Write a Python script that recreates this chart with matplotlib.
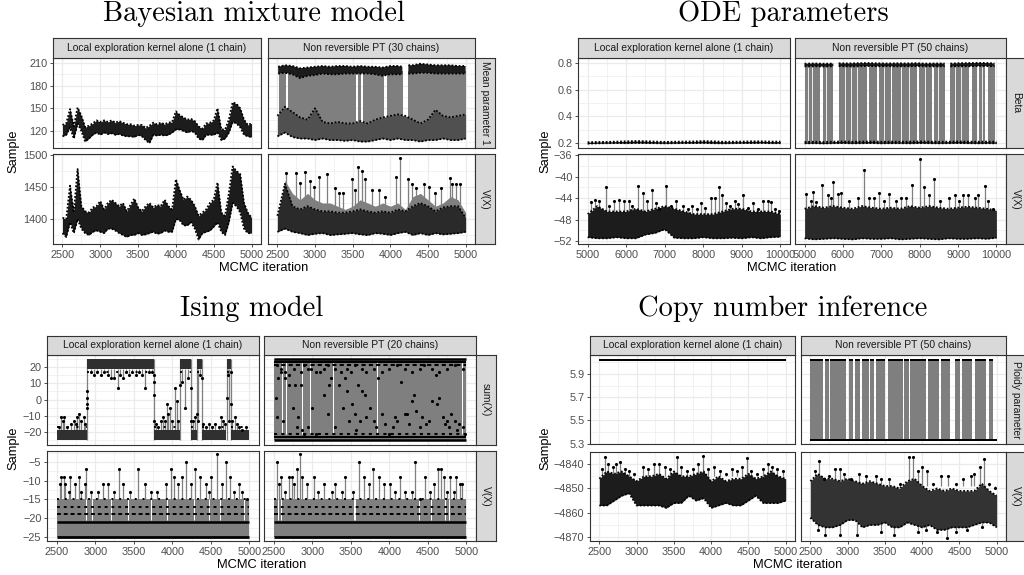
import numpy as np
import matplotlib
matplotlib.use('Agg')
import matplotlib.pyplot as plt
from matplotlib.ticker import FixedLocator

plt.rcParams['font.family'] = ['Liberation Sans', 'DejaVu Sans']
plt.rcParams['axes.formatter.useoffset'] = False

W, H = 1024, 575
GRID = '#ebebeb'
BORDER = '#333333'
TEXT = '#4d4d4d'
GREY = '#7f7f7f'
DARK = '#1c1c1c'
nan = np.nan

# ---- iteration grids -------------------------------------------------------
it50 = np.arange(2500, 5001, 50)
it100 = np.arange(2500, 5001, 100)
it250 = np.arange(5000, 10001, 250)

# ---- Bayesian mixture model ------------------------------------------------
mix_mean_local_lo = [113, 115, 125, 110, 130, 120, 106, 110, 115, 118,
                     115, 118, 116, 117, 115, 116, 114, 113, 113, 112,
                     115, 113, 108, 104, 115, 114, 115, 114, 115, 118,
                     122, 122, 120, 118, 120, 118, 110, 108, 115, 115,
                     115, 118, 108, 110, 118, 132, 130, 125, 115, 113, 112]
mix_mean_local_hi = [128, 130, 149, 126, 151, 140, 125, 127, 130, 134,
                     132, 134, 132, 134, 131, 133, 131, 129, 129, 127,
                     128, 128, 124, 127, 131, 129, 131, 129, 131, 132,
                     146, 141, 138, 135, 136, 133, 126, 123, 130, 131,
                     134, 150, 122, 122, 135, 158, 156, 150, 135, 128, 130]
mix_v_local_lo = [1378, 1372, 1395, 1378, 1400, 1385, 1378, 1375, 1380, 1382,
                  1380, 1378, 1385, 1385, 1382, 1378, 1375, 1372, 1375, 1375,
                  1378, 1375, 1376, 1378, 1380, 1377, 1378, 1382, 1380, 1380,
                  1400, 1398, 1390, 1390, 1395, 1385, 1368, 1378, 1380, 1382,
                  1388, 1395, 1380, 1375, 1395, 1425, 1420, 1410, 1385, 1378, 1378]
mix_v_local_hi = [1402, 1400, 1452, 1410, 1478, 1420, 1412, 1410, 1418, 1420,
                  1428, 1415, 1425, 1430, 1425, 1420, 1425, 1412, 1422, 1432,
                  1418, 1412, 1420, 1425, 1418, 1422, 1420, 1430, 1420, 1415,
                  1462, 1445, 1430, 1435, 1430, 1420, 1405, 1410, 1415, 1425,
                  1430, 1457, 1410, 1405, 1440, 1482, 1475, 1470, 1425, 1410, 1402]

mix_pt_up_x = [2510, 2600, 2700, 2800, 2900, 3000, 3100, 3200, 3300, 3400, 3500, 3600,
               3700, 3800, 3900, 4000, 4100, 4160, nan, 4240, 4300, 4400, 4500, 4600,
               4700, 4800, 4900, 5000]
mix_pt_up_lo = [196, 197, 195, 190, 193, 194, 196, 195, 195, 196, 196, 196,
                196, 195, 193, 195, 195, 195, nan, 196, 196, 197, 197, 196,
                196, 196, 196, 196]
mix_pt_up_hi = [205, 207, 206, 203, 204, 205, 206, 205, 206, 206, 205, 206,
                205, 205, 204, 206, 206, 205, nan, 207, 207, 209, 208, 207,
                207, 207, 206, 206]
mix_pt_low_lo = [113, 118, 112, 110, 110, 108, 110, 108, 108, 107, 108, 106, 106,
                 108, 110, 108, 110, 108, 108, 106, 108, 108, 110, 108, 108, 110]
mix_pt_low_hi = [140, 152, 145, 138, 135, 150, 132, 130, 132, 130, 130, 133, 130,
                 135, 138, 140, 142, 140, 135, 130, 135, 148, 140, 138, 140, 142]
mix_pt_blocks = [(2525, 2620), (2636, 3328), (3338, 3543), (3565, 3605),
                 (3635, 3918), (3953, 4162), (4240, 5000)]

mix_v_pt_lo = [1380, 1385, 1380, 1378, 1375, 1377, 1378, 1375, 1376, 1377, 1378, 1376, 1375,
               1378, 1377, 1375, 1378, 1380, 1375, 1378, 1375, 1378, 1376, 1377, 1378, 1380]
mix_v_pt_hi = [1405, 1455, 1420, 1415, 1420, 1415, 1412, 1412, 1410, 1410, 1412, 1415, 1412,
               1410, 1412, 1410, 1415, 1412, 1420, 1425, 1420, 1412, 1418, 1420, 1420, 1402]
mix_v_pt_env = [1405, 1460, 1440, 1430, 1440, 1430, 1425, 1425, 1420, 1415, 1420, 1430, 1425,
                1420, 1425, 1420, 1425, 1415, 1435, 1440, 1430, 1420, 1425, 1435, 1430, 1410]
mix_v_pt_spk_x = [2615, 2743, 2795, 2870, 2928, 2980, 3055, 3157, 3267, 3320, 3378, 3497,
                  3528, 3576, 3620, 3664, 3760, 3853, 3928, 4070, 4127, 4238, 4282, 4340,
                  4450, 4515, 4590, 4678, 4789, 4824, 4877, 4930]
mix_v_pt_spk_y = [1472, 1472, 1456, 1473, 1460, 1450, 1465, 1470, 1448, 1440, 1440, 1462,
                  1445, 1481, 1475, 1462, 1445, 1445, 1435, 1465, 1496, 1463, 1455, 1448,
                  1455, 1450, 1440, 1448, 1464, 1455, 1455, 1455]

# ---- ODE parameters --------------------------------------------------------
ode_beta_local_lo = [0.195, 0.197, 0.198, 0.199, 0.198, 0.200, 0.199, 0.198, 0.197, 0.198, 0.199,
                     0.199, 0.200, 0.198, 0.197, 0.198, 0.199, 0.199, 0.200, 0.198, 0.198]
ode_beta_local_hi = [0.205, 0.207, 0.208, 0.210, 0.212, 0.214, 0.213, 0.210, 0.208, 0.209, 0.210,
                     0.211, 0.214, 0.212, 0.209, 0.209, 0.210, 0.212, 0.212, 0.210, 0.210]
ode_pt_up_x = [5000, 5250, 5500, 5750, nan, 5890, 6150, 6400, 6650, 6900, 7150, 7400,
               7650, 7900, 8150, 8400, 8650, nan, 8800, 9050, 9300, 9550, 9800, 9950]
ode_pt_up_lo = [0.775, 0.776, 0.774, 0.776, nan, 0.777, 0.775, 0.776, 0.778, 0.776, 0.777, 0.775,
                0.776, 0.777, 0.776, 0.775, 0.776, nan, 0.775, 0.777, 0.776, 0.778, 0.777, 0.775]
ode_pt_up_hi = [0.795, 0.797, 0.795, 0.796, nan, 0.798, 0.797, 0.799, 0.800, 0.798, 0.797, 0.798,
                0.797, 0.799, 0.796, 0.797, 0.797, nan, 0.796, 0.799, 0.800, 0.801, 0.800, 0.797]
ode_pt_low_lo = [0.197, 0.198, 0.196, 0.198, 0.199, 0.197, 0.198, 0.199, 0.197, 0.198, 0.198,
                 0.197, 0.199, 0.198, 0.197, 0.198, 0.199, 0.198, 0.197, 0.198, 0.197]
ode_pt_low_hi = [0.208, 0.209, 0.207, 0.210, 0.211, 0.209, 0.210, 0.211, 0.209, 0.210, 0.209,
                 0.210, 0.211, 0.210, 0.209, 0.210, 0.211, 0.210, 0.209, 0.210, 0.209]
ode_pt_blocks = [(5000, 5389), (5475, 5752), (5890, 6616), (6668, 6875), (6927, 7246),
                 (7290, 7506), (7549, 7938), (7981, 8326), (8370, 8655), (8802, 9277),
                 (9363, 9493), (9553, 9692), (9778, 9951)]
ode_pt_thin = [5090, 5200, 5560, 6060, 6200, 6360, 7060, 7720, 8150, 8470, 8920, 9080, 9620]

ode_v_local_lo = [-51.3, -51.5, -51.5, -51.3, -51.5, -51.5, -50.8, -50.5, -49.8, -51.4, -51.5,
                  -51.5, -51.3, -51.5, -51.5, -51.4, -51.5, -51.3, -51.5, -51.3, -51.2]
ode_v_local_hi = [-47.0, -45.5, -46.5, -46.5, -46.5, -46.0, -46.5, -46.0, -45.5, -46.0, -46.5,
                  -47.0, -47.0, -47.0, -46.5, -46.0, -46.0, -46.5, -46.5, -46.5, -47.0]
ode_v_local_spk_x = [5100, 5200, 5300, 5480, 5550, 5680, 5810, 5940, 6070, 6150, 6310, 6440,
                     6550, 6660, 6770, 6850, 7030, 7150, 7300, 7470, 7600, 7710, 7850, 7950,
                     8050, 8190, 8300, 8420, 8480, 8600, 8700, 8820, 8900, 9020, 9150, 9300,
                     9420, 9560, 9690, 9750, 9870, 9960]
ode_v_local_spk_y = [-44.8, -44.3, -44.5, -42.0, -45.5, -44.5, -44.3, -44.5, -44.5, -45.5, -41.7, -43.0,
                     -44.5, -42.5, -45.0, -46.0, -41.8, -45.5, -44.5, -45.5, -46.0, -45.5, -46.0, -45.0,
                     -45.8, -44.0, -44.0, -41.9, -43.5, -45.0, -45.5, -44.5, -45.2, -43.5, -45.8, -45.0,
                     -46.0, -44.5, -44.5, -44.8, -46.0, -46.5]
ode_v_pt_lo = [-51.5, -51.7, -51.6, -51.5, -51.6, -51.7, -51.5, -51.6, -51.6, -51.5, -51.7,
               -51.6, -51.5, -51.6, -51.7, -51.5, -51.6, -51.6, -51.5, -51.6, -51.4]
ode_v_pt_hi = [-46.0, -45.5, -45.8, -45.5, -45.8, -46.0, -45.5, -45.8, -46.0, -45.8, -46.0,
               -45.5, -45.8, -45.5, -45.8, -46.0, -45.8, -45.6, -45.8, -46.0, -46.3]
ode_v_pt_spk_x = [5025, 5170, 5230, 5300, 5460, 5600, 5690, 5750, 5865, 5950, 6165, 6380,
                  6560, 6680, 6810, 6940, 7070, 7200, 7380, 7520, 7640, 7810, 8000, 8110,
                  8240, 8370, 8540, 8760, 8910, 9020, 9140, 9270, 9430, 9530, 9690, 9790, 9920]
ode_v_pt_spk_y = [-43.3, -44.5, -42.8, -44.8, -41.6, -43.5, -44.0, -41.0, -43.2, -43.0, -44.5, -44.0,
                  -38.8, -44.0, -44.0, -43.0, -44.5, -43.3, -44.5, -44.0, -44.0, -41.5, -36.8, -42.0,
                  -43.5, -40.5, -44.5, -44.0, -43.5, -44.5, -43.5, -43.5, -44.0, -43.5, -41.8, -44.5, -46.0]

# ---- Ising model -----------------------------------------------------------
ising_local_low = [(2500, 2895), (3760, 4100), (4245, 4322), (4382, 4703), (4762, 5000)]
ising_local_high = [(2900, 3758), (4102, 4242), (4324, 4380), (4705, 4760)]
ising_local_tr_x = [2897, 2897, 2897, 2897, 3759, 3759, 3759, 3759, 4101, 4243, 4243, 4323,
                    4381, 4704, 4761, 4761]
ising_local_tr_y = [1, -3, -5, 5, 11, 3, -13, 15, 9, 7, -13, -9, 13, 1, 17, -3]
ising_local_lspk_x = [2530, 2555, 2580, 2600, 2640, 2680, 2720, 2745, 2770, 2790, 2820, 2850,
                      2870, 3790, 3820, 3850, 3880, 3905, 3930, 3950, 3975, 4000, 4030, 4055,
                      4075, 4270, 4295, 4400, 4440, 4480, 4520, 4560, 4600, 4630, 4660, 4680,
                      4780, 4810, 4840, 4870, 4900, 4950]
ising_local_lspk_y = [-17, -11, -13, -11, -17, -15, -13, -15, -11, -9, -13, -11,
                      -15, -15, -17, -13, -11, -13, -3, -9, -5, -13, 7, -1,
                      -13, -13, -11, -15, -17, -15, -17, -15, -17, -11, -13, -15,
                      -13, -11, -15, -17, -19, -17]
ising_local_hdip_x = [2950, 2990, 3030, 3080, 3120, 3160, 3200, 3240, 3300, 3320, 3360, 3400,
                      3440, 3480, 3530, 3570, 3610, 3650, 3700, 3740, 4130, 4160, 4200, 4340,
                      4360, 4720, 4740]
ising_local_hdip_y = [17, 15, 17, 15, 17, 15, 13, 13, 7, 15, 13, 17,
                      15, 17, 15, 17, 15, 7, 17, 17, 11, -5, 13, -13,
                      15, 15, -13]
ising_pt_white = [2608, 2665, 2868, 2967, 3265, 3840, 4944]
ising_pt_dot_x = [2530, 2540, 2560, 2600, 2620, 2650, 2700, 2750, 2780, 2800, 2820, 2850, 2870,
                  2900, 2950, 2980, 3000, 3050, 3100, 3150, 3200, 3220, 3250, 3300, 3350, 3400,
                  3420, 3450, 3480, 3500, 3520, 3550, 3570, 3600, 3620, 3650, 3680, 3700, 3750,
                  3800, 3830, 3850, 3900, 3950, 4000, 4050, 4080, 4100, 4150, 4200, 4230, 4260,
                  4300, 4320, 4350, 4400, 4430, 4480, 4520, 4550, 4600, 4620, 4650, 4700, 4720,
                  4750, 4780, 4800, 4850, 4880, 4900, 4950, 4980,
                  2540, 2600, 2650, 2700, 2760, 2850, 2900, 2950, 3050, 3150, 3200, 3300, 3380,
                  3450, 3550, 3650, 3700, 3800, 3900, 4000, 4100, 4200, 4300, 4400, 4450, 4550,
                  4650, 4750, 4850, 4950]
ising_pt_dot_y = [1, -11, 13, 17, -13, 13, 9, -5, 9, -17, -11, 9, -19,
                  -21, -17, 19, -5, -21, 17, 3, -9, 9, 13, -17, 9, -5,
                  13, 5, -13, 17, -3, -9, -19, 9, -13, 5, 3, -11, -5,
                  -13, -17, 13, -9, -15, -21, -17, -11, -13, 11, -9, -9, -15,
                  -1, 3, -7, -17, -11, -15, -13, -1, 15, -3, 1, -11, -15,
                  -13, -17, -9, -13, -19, -15, -17, -21,
                  21, 19, 17, 15, 19, 17, 21, 19, 17, 19, 21, 19, 17,
                  19, 21, 19, 17, 19, 17, 19, 21, 19, 17, 19, 21, 19,
                  17, 19, 21, 19]
ising_v_local_white = [2880, 2955, 3200, 3430, 3720, 3930, 4280, 4480, 4620, 4930]
ising_v_pt_white = [2560, 2590, 3540, 3560, 4385, 4540, 4720, 4780]
ising_v_local_spk_x = [2540, 2560, 2590, 2613, 2656, 2670, 2735, 2790, 2820, 2865, 2886, 2950,
                       3040, 3100, 3170, 3240, 3307, 3360, 3450, 3560, 3650, 3730, 3800, 3915,
                       3980, 4025, 4080, 4125, 4180, 4240, 4300, 4360, 4435, 4470, 4500, 4580,
                       4645, 4700, 4745, 4795, 4860, 4905, 4970]
ising_v_local_spk_y = [-11, -9, -9, -11, -13, -9, -11, -9, -13, -11, -7, -13,
                       -13, -11, -11, -13, -7, -11, -13, -7, -11, -13, -13, -11,
                       -7, -9, -11, -9, -5, -11, -7, -9, -11, -13, -9, -3,
                       -11, -5, -9, -13, -11, -13, -15]
ising_v_pt_spk_x = [2543, 2565, 2600, 2643, 2695, 2738, 2768, 2803, 2837, 2868, 2932, 3020,
                    3075, 3150, 3257, 3300, 3387, 3430, 3525, 3603, 3668, 3733, 3790, 3862,
                    3927, 4013, 4078, 4143, 4208, 4295, 4338, 4403, 4459, 4524, 4576, 4628,
                    4671, 4706, 4749, 4792, 4835, 4870, 4913, 4944]
ising_v_pt_spk_y = [-5, -11, -9, -13, -9, -9, -11, -7, -3, -9, -11, -9,
                    -13, -11, -13, -11, -13, -9, -13, -5, -9, -11, -7, -9,
                    -11, -11, -13, -9, -13, -13, -5, -15, -9, -13, -11, -7,
                    -7, -9, -13, -9, -13, -9, -11, -11]

# ---- Copy number inference -------------------------------------------------
cn_local_ploidy = (6.011, 6.029)
cn_pt_upper = (6.012, 6.028)
cn_pt_lower = (5.322, 5.336)
cn_pt_blocks = [(2500, 2666), (2702, 2755), (2769, 2979), (3015, 3069), (3096, 3168),
                (3194, 3284), (3306, 3360), (3383, 3508), (3539, 3741), (3763, 3822),
                (3840, 4046), (4077, 4225), (4256, 4368), (4435, 4503), (4538, 4673),
                (4704, 4861), (4892, 4950)]
cn_v_local_lo = [-4857, -4857, -4855, -4853, -4852, -4857, -4857, -4857, -4857, -4858, -4856, -4856, -4853,
                 -4855, -4854, -4858, -4857, -4856, -4857, -4857, -4855, -4853, -4856, -4856, -4856, -4855]
cn_v_local_hi = [-4846, -4843, -4844, -4843, -4845, -4847, -4845, -4845, -4844, -4846, -4843, -4845, -4845,
                 -4844, -4843, -4847, -4845, -4847, -4846, -4846, -4844, -4846, -4845, -4843, -4845, -4846]
cn_v_local_spk_x = [2530, 2580, 2620, 2680, 2720, 2780, 2850, 2900, 2960, 3080, 3150, 3230,
                    3300, 3380, 3450, 3540, 3600, 3680, 3760, 3830, 3895, 3960, 4040, 4120,
                    4200, 4280, 4350, 4420, 4475, 4540, 4620, 4700, 4760, 4820, 4880, 4960]
cn_v_local_spk_y = [-4842, -4837, -4840, -4841, -4840, -4839, -4842, -4843, -4844, -4841, -4842, -4840,
                    -4840, -4841, -4842, -4837, -4841, -4843, -4842, -4840, -4836.5, -4842, -4841, -4843,
                    -4844, -4842, -4843, -4841, -4837.5, -4843, -4844, -4842, -4840, -4841, -4842, -4843]
cn_v_pt_lo = [-4862, -4865, -4866, -4866, -4865, -4863, -4863, -4866, -4865, -4865, -4864, -4866, -4866,
              -4864, -4865, -4866, -4865, -4867, -4867, -4866, -4866, -4866, -4865, -4864, -4864, -4866]
cn_v_pt_hi = [-4847, -4844, -4846, -4846, -4847, -4846, -4847, -4848, -4847, -4848, -4849, -4849, -4850,
              -4847, -4846, -4849, -4851, -4850, -4851, -4850, -4851, -4851, -4851, -4848, -4851, -4853]
cn_v_pt_tspk_x = [2560, 2610, 2680, 2750, 2830, 2900, 2950, 3050, 3150, 3250, 3380, 3450, 3550,
                  3700, 3830, 3880, 3950, 4000, 4070, 4150, 4250, 4350, 4450, 4550, 4650, 4700,
                  4780, 4830, 4900, 4980]
cn_v_pt_tspk_y = [-4843, -4838.5, -4846, -4845, -4842, -4842, -4844, -4846, -4844, -4845, -4845, -4846,
                  -4846, -4848, -4837, -4837, -4843, -4841, -4843, -4848, -4845, -4845, -4848, -4846,
                  -4845, -4844, -4841, -4838, -4848, -4850]
cn_v_pt_bspk_x = [2600, 2700, 2900, 3130, 3450, 3620, 3950, 4050, 4200, 4330, 4450, 4600, 4800]
cn_v_pt_bspk_y = [-4867, -4869, -4869, -4869, -4868, -4869, -4868, -4867, -4868, -4870.5, -4868, -4867, -4866]

fig = plt.figure(figsize=(W / 100, H / 100), dpi=100)


def box(x0, y0, x1, y1):
    return [x0 / W, 1 - y1 / H, (x1 - x0) / W, (y1 - y0) / H]


def minors(ticks, lim):
    step = ticks[1] - ticks[0]
    vals = [t + step / 2 for t in [ticks[0] - step] + list(ticks)]
    return [v for v in vals if lim[0] <= v <= lim[1]]


def strip(rect, label, rot=0):
    ax = fig.add_axes(rect)
    ax.set_facecolor('#d9d9d9')
    ax.set_xticks([])
    ax.set_yticks([])
    for s in ax.spines.values():
        s.set_color(BORDER)
        s.set_linewidth(0.8)
    ax.text(0.5, 0.5, label, rotation=rot, ha='center', va='center',
            fontsize=7.4, color='#1a1a1a', transform=ax.transAxes)


def make_panel(cols, rows, strip_top, xlim, xticks, ylims, yticks,
               col_labels, row_labels, title, title_xy, ylabel_x, xlabel_y):
    axs = [[None, None], [None, None]]
    for r in range(2):
        for c in range(2):
            ax = fig.add_axes(box(cols[c][0], rows[r][0], cols[c][1], rows[r][1]))
            ax.set_xlim(xlim)
            ax.set_ylim(ylims[r])
            ax.xaxis.set_major_locator(FixedLocator(xticks))
            ax.yaxis.set_major_locator(FixedLocator(yticks[r]))
            ax.xaxis.set_minor_locator(FixedLocator(minors(xticks, xlim)))
            ax.yaxis.set_minor_locator(FixedLocator(minors(yticks[r], ylims[r])))
            ax.set_axisbelow(True)
            ax.grid(True, which='major', color=GRID, lw=0.9)
            ax.grid(True, which='minor', color=GRID, lw=0.45)
            ax.tick_params(which='minor', length=0)
            ax.tick_params(which='major', length=2.5, width=0.6, color=BORDER,
                           labelsize=7.8, labelcolor=TEXT, pad=1.5)
            if c == 1:
                ax.tick_params(axis='y', length=0, labelleft=False)
            if r == 0:
                ax.tick_params(axis='x', length=0, labelbottom=False)
            for s in ax.spines.values():
                s.set_color(BORDER)
                s.set_linewidth(0.8)
                s.set_zorder(10)
            axs[r][c] = ax
    for c in range(2):
        strip(box(cols[c][0], strip_top, cols[c][1], rows[0][0]), col_labels[c])
    for r in range(2):
        strip(box(cols[1][1], rows[r][0], cols[1][1] + 20, rows[r][1]), row_labels[r], rot=-90)
    fig.text(title_xy[0] / W, 1 - title_xy[1] / H, title, fontfamily='cmr10',
             fontsize=20.5, ha='center', va='center')
    fig.text(ylabel_x / W, 1 - (rows[0][0] + rows[1][1]) / 2 / H, 'Sample',
             rotation=90, fontsize=9.3, ha='center', va='center')
    fig.text((cols[0][0] + cols[1][1]) / 2 / W, 1 - xlabel_y / H, 'MCMC iteration',
             fontsize=9.3, ha='center', va='center')
    return axs


def band(ax, x, lo, hi, color=DARK):
    # dense trace: filled envelope with fuzzy dotted edges
    ax.fill_between(x, lo, hi, color=color, lw=0, zorder=3)
    for edge in (lo, hi):
        ax.plot(x, edge, color='black', lw=1.3, ls=(0, (1, 1)), zorder=4)


def spikes(ax, x, y, base, color=GREY):
    ax.vlines(x, base, y, color=color, lw=0.9, zorder=2)
    ax.plot(x, y, 'k.', ms=2.5, ls='none', zorder=4)


def blocks(ax, spans, y0, y1, color=GREY):
    ax.broken_barh([(s, e - s) for s, e in spans], (y0, y1 - y0),
                   facecolors=color, lw=0, zorder=2)


def row_dots(ax, x0, x1, y, style, lw=1.6):
    ax.hlines(y, x0, x1, color='black', lw=lw, linestyles=style, zorder=4)


yr = ['Mean parameter 1', 'V(X)']
cl_local = 'Local exploration kernel alone (1 chain)'

# ---- Bayesian mixture model panel -----------------------------------------
A = make_panel(cols=[(53, 261), (268, 475)], rows=[(58, 148), (154, 244)], strip_top=38,
               xlim=(2375, 5125), xticks=[2500, 3000, 3500, 4000, 4500, 5000],
               ylims=[(97.5, 216.6), (1361, 1501.5)],
               yticks=[[120, 150, 180, 210], [1400, 1450, 1500]],
               col_labels=[cl_local, 'Non reversible PT (30 chains)'],
               row_labels=yr, title='Bayesian mixture model', title_xy=(254, 14),
               ylabel_x=13, xlabel_y=268)
band(A[0][0], it50, mix_mean_local_lo, mix_mean_local_hi)
band(A[1][0], it50, mix_v_local_lo, mix_v_local_hi)
blocks(A[0][1], mix_pt_blocks, 122, 200)
band(A[0][1], mix_pt_up_x, mix_pt_up_lo, mix_pt_up_hi)
band(A[0][1], it100, mix_pt_low_lo, mix_pt_low_hi, color='#505050')
A[1][1].fill_between(it100, mix_v_pt_lo, mix_v_pt_env, color=GREY, lw=0, zorder=2)
spikes(A[1][1], mix_v_pt_spk_x, mix_v_pt_spk_y, 1410)
band(A[1][1], it100, mix_v_pt_lo, mix_v_pt_hi, color='#2a2a2a')

# ---- ODE panel -------------------------------------------------------------
B = make_panel(cols=[(578, 790), (795, 1006)], rows=[(58, 148), (154, 244)], strip_top=38,
               xlim=(4750, 10250), xticks=[5000, 6000, 7000, 8000, 9000, 10000],
               ylims=[(0.162, 0.838), (-52.56, -35.8)],
               yticks=[[0.2, 0.4, 0.6, 0.8], [-52, -48, -44, -40, -36]],
               col_labels=[cl_local, 'Non reversible PT (50 chains)'],
               row_labels=['Beta', 'V(X)'], title='ODE parameters', title_xy=(783, 14),
               ylabel_x=545, xlabel_y=268)
band(B[0][0], it250, ode_beta_local_lo, ode_beta_local_hi)
blocks(B[0][1], ode_pt_blocks, 0.205, 0.785)
B[0][1].vlines(ode_pt_thin, 0.215, 0.77, color='white', lw=0.6, zorder=2.5)
band(B[0][1], ode_pt_up_x, ode_pt_up_lo, ode_pt_up_hi)
band(B[0][1], it250, ode_pt_low_lo, ode_pt_low_hi)
spikes(B[1][0], ode_v_local_spk_x, ode_v_local_spk_y, -47)
band(B[1][0], it250, ode_v_local_lo, ode_v_local_hi)
spikes(B[1][1], ode_v_pt_spk_x, ode_v_pt_spk_y, -46.5)
band(B[1][1], it250, ode_v_pt_lo, ode_v_pt_hi, color='#2a2a2a')

# ---- Ising panel -----------------------------------------------------------
C = make_panel(cols=[(47, 259), (264, 476)], rows=[(355, 445), (451, 541)], strip_top=336,
               xlim=(2375, 5125), xticks=[2500, 3000, 3500, 4000, 4500, 5000],
               ylims=[(-28, 27.4), (-26.1, -2.1)],
               yticks=[[-20, -10, 0, 10, 20], [-25, -20, -15, -10, -5]],
               col_labels=[cl_local, 'Non reversible PT (20 chains)'],
               row_labels=['sum(X)', 'V(X)'], title='Ising model', title_xy=(252, 309),
               ylabel_x=13, xlabel_y=565)
ax = C[0][0]
for s, e in ising_local_high:
    ax.vlines([s, e], -25, 25, color=GREY, lw=0.9, zorder=2)
spikes(ax, ising_local_lspk_x, ising_local_lspk_y, -19)
spikes(ax, ising_local_hdip_x, ising_local_hdip_y, 19)
for s, e in ising_local_low:
    ax.fill_between([s, e], -25, -19, color='#303030', lw=0, zorder=3)
    row_dots(ax, s, e, -17, (0, (1, 4)), lw=1.4)
for s, e in ising_local_high:
    ax.fill_between([s, e], 19, 25, color='#303030', lw=0, zorder=3)
    row_dots(ax, s, e, 17, (0, (1, 4)), lw=1.4)
ax.plot(ising_local_tr_x, ising_local_tr_y, 'k.', ms=2.5, ls='none', zorder=4)

ax = C[0][1]
ax.fill_between([2510, 5000], -25, 25, color=GREY, lw=0, zorder=2)
ax.vlines(ising_pt_white, -21, 23, color='white', lw=0.7, zorder=2.5)
for yv, st, lw in [(25, 'solid', 1.8), (23, 'solid', 1.5), (21, (0, (2, 1.5)), 1.5),
                   (-25, 'solid', 1.8), (-23, 'solid', 1.5), (-21, (0, (1.5, 2)), 1.5)]:
    row_dots(ax, 2510, 5000, yv, st, lw)
ax.plot(ising_pt_dot_x, ising_pt_dot_y, 'k.', ms=2.5, ls='none', zorder=4)

for ax, wx, sx, sy in [(C[1][0], ising_v_local_white, ising_v_local_spk_x, ising_v_local_spk_y),
                       (C[1][1], ising_v_pt_white, ising_v_pt_spk_x, ising_v_pt_spk_y)]:
    ax.fill_between([2500, 5000], -25, -15, color=GREY, lw=0, zorder=2)
    ax.vlines(wx, -20.5, -15, color='white', lw=0.7, zorder=2.5)
    spikes(ax, sx, sy, -15)
    for yv, st, lw in [(-25, 'solid', 2.0), (-21, 'solid', 1.8), (-19, (0, (2, 1.5)), 1.4),
                       (-17, (0, (1.5, 2)), 1.4), (-15, (0, (1, 3)), 1.4)]:
        row_dots(ax, 2500, 5000, yv, st, lw)

# ---- Copy number panel -----------------------------------------------------
D = make_panel(cols=[(590, 795), (801, 1006)], rows=[(355, 444), (452, 541)], strip_top=336,
               xlim=(2375, 5125), xticks=[2500, 3000, 3500, 4000, 4500, 5000],
               ylims=[(5.297, 6.063), (-4871.6, -4835)],
               yticks=[[5.3, 5.5, 5.7, 5.9], [-4870, -4860, -4850, -4840]],
               col_labels=[cl_local, 'Non reversible PT (50 chains)'],
               row_labels=['Ploidy parameter', 'V(X)'], title='Copy number inference',
               title_xy=(783, 309), ylabel_x=545, xlabel_y=565)
D[0][0].fill_between([2500, 5000], *cn_local_ploidy, color='black', lw=0, zorder=3)
ax = D[0][1]
blocks(ax, cn_pt_blocks, cn_pt_lower[0], cn_pt_upper[1])
for s, e in cn_pt_blocks:
    ax.fill_between([s, e], *cn_pt_upper, color='black', lw=0, zorder=3)
ax.fill_between([2500, 5000], *cn_pt_lower, color='black', lw=0, zorder=3)
spikes(D[1][0], cn_v_local_spk_x, cn_v_local_spk_y, -4845)
band(D[1][0], it100, cn_v_local_lo, cn_v_local_hi)
spikes(D[1][1], cn_v_pt_tspk_x, cn_v_pt_tspk_y, -4849)
spikes(D[1][1], cn_v_pt_bspk_x, cn_v_pt_bspk_y, -4864)
band(D[1][1], it100, cn_v_pt_lo, cn_v_pt_hi, color='#333333')

fig.savefig('out.png', dpi=100)
